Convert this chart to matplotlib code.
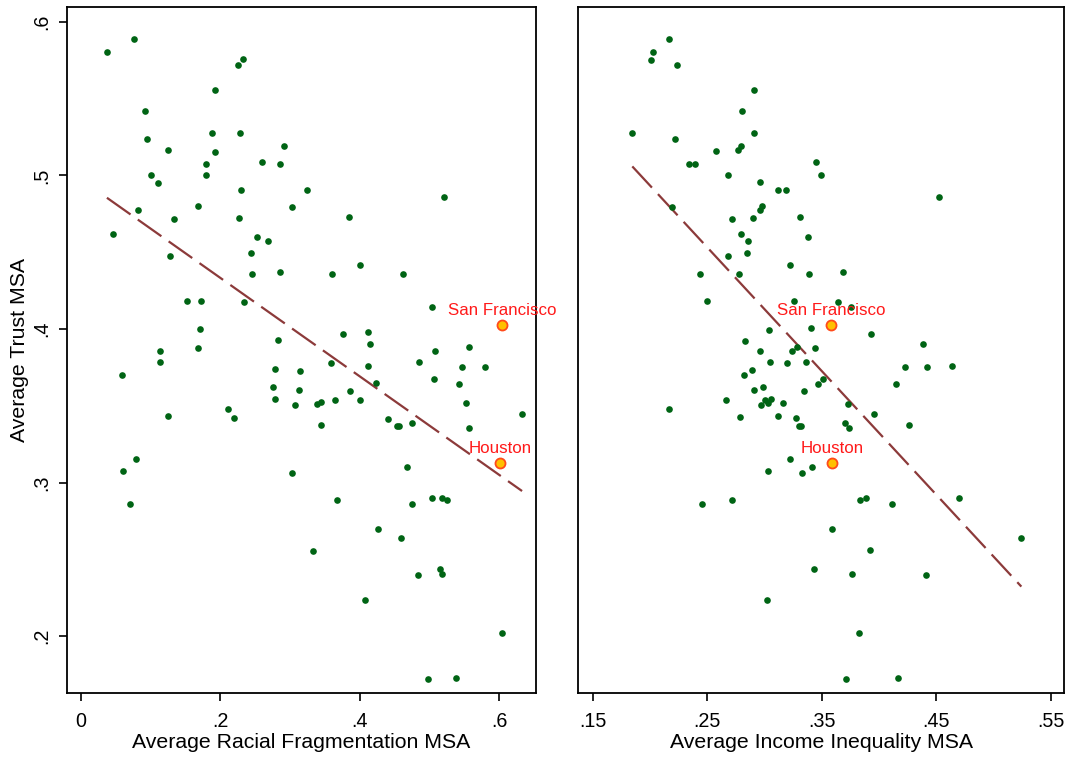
import numpy as np
import matplotlib
matplotlib.use('Agg')
import matplotlib.pyplot as plt

plt.rcParams['font.family'] = ['Liberation Sans', 'DejaVu Sans']

# average trust vs racial fragmentation (left panel), one value per MSA
frag_x = [0.0373, 0.0761, 0.2253, 0.2325, 0.1923, 0.0919, 0.0947, 0.1249, 0.1880, 0.2282,
          0.1923, 0.2914, 0.1794, 0.1794, 0.2598, 0.2856, 0.1005, 0.1105, 0.2297, 0.3244,
          0.0818, 0.0459, 0.1335, 0.1679, 0.2268, 0.3029, 0.2526, 0.2684, 0.2440, 0.1277,
          0.2454, 0.2856, 0.3603, 0.1521, 0.1722, 0.2340, 0.1708, 0.2828, 0.1679, 0.1134,
          0.1134, 0.0588, 0.2785, 0.3143, 0.3588, 0.2756, 0.3129, 0.2785, 0.3072, 0.3387,
          0.3445, 0.3646, 0.3445, 0.2110, 0.2196, 0.1249, 0.0789, 0.0603, 0.3029, 0.0703,
          0.3674, 0.3330, 0.5210, 0.3847, 0.4005, 0.4622, 0.5038, 0.3761, 0.4119, 0.4148,
          0.5081, 0.5569, 0.4851, 0.4119, 0.5469, 0.5799, 0.5067, 0.5426, 0.4234, 0.3861,
          0.4005, 0.5526, 0.4406, 0.4536, 0.4564, 0.4751, 0.5569, 0.6330, 0.4679, 0.4751,
          0.5038, 0.5182, 0.5253, 0.4263, 0.4593, 0.4837, 0.5153, 0.5182, 0.4076, 0.6043,
          0.4981, 0.5383]
frag_y = [0.5800, 0.5887, 0.5718, 0.5757, 0.5555, 0.5419, 0.5236, 0.5165, 0.5275, 0.5275,
          0.5152, 0.5191, 0.5074, 0.5002, 0.5087, 0.5074, 0.5002, 0.4950, 0.4904, 0.4904,
          0.4774, 0.4618, 0.4715, 0.4800, 0.4722, 0.4794, 0.4598, 0.4572, 0.4494, 0.4475,
          0.4357, 0.4370, 0.4357, 0.4182, 0.4182, 0.4175, 0.4000, 0.3928, 0.3876, 0.3856,
          0.3785, 0.3700, 0.3739, 0.3726, 0.3778, 0.3622, 0.3602, 0.3544, 0.3505, 0.3511,
          0.3524, 0.3537, 0.3374, 0.3478, 0.3420, 0.3433, 0.3153, 0.3075, 0.3062, 0.2860,
          0.2886, 0.2554, 0.4859, 0.4729, 0.4416, 0.4357, 0.4143, 0.3967, 0.3980, 0.3902,
          0.3856, 0.3882, 0.3785, 0.3758, 0.3752, 0.3752, 0.3674, 0.3641, 0.3648, 0.3596,
          0.3537, 0.3518, 0.3413, 0.3368, 0.3368, 0.3387, 0.3355, 0.3446, 0.3101, 0.2860,
          0.2899, 0.2899, 0.2886, 0.2697, 0.2639, 0.2398, 0.2437, 0.2405, 0.2235, 0.2020,
          0.1721, 0.1727]

# average trust vs income inequality (right panel)
ineq_x = [0.2164, 0.2027, 0.2007, 0.2240, 0.2913, 0.2808, 0.1846, 0.2222, 0.2913, 0.2575,
          0.2794, 0.2773, 0.2342, 0.2392, 0.2680, 0.3452, 0.3496, 0.2960, 0.3117, 0.3192,
          0.2196, 0.2980, 0.2960, 0.2718, 0.2901, 0.3312, 0.2799, 0.2858, 0.3379, 0.2846,
          0.2680, 0.3219, 0.2435, 0.2781, 0.3388, 0.2499, 0.3257, 0.3408, 0.3041, 0.4527,
          0.3688, 0.3642, 0.3752, 0.3930, 0.4387, 0.4227, 0.4422, 0.4638, 0.3511, 0.3472,
          0.4145, 0.3734, 0.3956, 0.3705, 0.3743, 0.4265, 0.3837, 0.3883, 0.4116, 0.4696,
          0.3594, 0.5244, 0.3921, 0.2829, 0.2960, 0.3240, 0.3286, 0.3443, 0.3052, 0.3201,
          0.3362, 0.2820, 0.2895, 0.2913, 0.2986, 0.3350, 0.2668, 0.2969, 0.3006, 0.3035,
          0.3061, 0.3166, 0.2790, 0.3117, 0.3277, 0.3303, 0.3323, 0.3227, 0.3417, 0.3332,
          0.3032, 0.2453, 0.2715, 0.3434, 0.3761, 0.4407, 0.3024, 0.3828, 0.3714, 0.4163,
          0.2164]
ineq_y = [0.5885, 0.5800, 0.5753, 0.5720, 0.5553, 0.5421, 0.5273, 0.5238, 0.5273, 0.5156,
          0.5191, 0.5163, 0.5072, 0.5072, 0.5002, 0.5087, 0.5002, 0.4954, 0.4904, 0.4904,
          0.4794, 0.4800, 0.4772, 0.4717, 0.4724, 0.4730, 0.4620, 0.4570, 0.4598, 0.4494,
          0.4475, 0.4418, 0.4356, 0.4356, 0.4356, 0.4182, 0.4182, 0.4006, 0.3993, 0.4857,
          0.4368, 0.4173, 0.4141, 0.3965, 0.3904, 0.3750, 0.3750, 0.3756, 0.3674, 0.3643,
          0.3639, 0.3513, 0.3444, 0.3389, 0.3353, 0.3374, 0.2888, 0.2901, 0.2860, 0.2901,
          0.2699, 0.2637, 0.2558, 0.3923, 0.3854, 0.3854, 0.3882, 0.3876, 0.3786, 0.3778,
          0.3786, 0.3702, 0.3734, 0.3604, 0.3624, 0.3598, 0.3535, 0.3507, 0.3535, 0.3520,
          0.3543, 0.3520, 0.3424, 0.3431, 0.3418, 0.3368, 0.3368, 0.3153, 0.3103, 0.3062,
          0.3075, 0.2860, 0.2886, 0.2435, 0.2406, 0.2400, 0.2233, 0.2018, 0.1719, 0.1725,
          0.3478]

# labelled cities: name, fragmentation, inequality, trust
cities = ['San Francisco', 'Houston']
city_frag = [0.6043, 0.6014]
city_ineq = [0.3580, 0.3589]
city_trust = [0.4025, 0.3127]

frag_ticks = [0, 0.2, 0.4, 0.6]
frag_ticklabels = ['0', '.2', '.4', '.6']
ineq_ticks = [0.15, 0.25, 0.35, 0.45, 0.55]
ineq_ticklabels = ['.15', '.25', '.35', '.45', '.55']
trust_ticks = [0.2, 0.3, 0.4, 0.5, 0.6]
trust_ticklabels = ['.2', '.3', '.4', '.5', '.6']

GREEN = '#006414'
LINE = '#8c3a3a'


def draw_panel(ax, xs, ys, city_x, xlabel, xlim, xticks, xticklabels):
    # fit line includes the labelled cities too
    all_x = np.array(xs + city_x)
    all_y = np.array(ys + city_trust)
    slope, icpt = np.polyfit(all_x, all_y, 1)
    fx = np.array([all_x.min(), all_x.max()])
    ax.plot(fx, icpt + slope * fx, color=LINE, lw=1.6, linestyle=(0, (13, 4)), zorder=2)

    ax.scatter(xs, ys, s=23, color=GREEN, linewidths=0, zorder=3)
    ax.scatter(city_x, city_trust, s=52, color='#ffc000', edgecolors='#ff4a1a',
               linewidths=1.3, zorder=4)
    for name, cx, cy in zip(cities, city_x, city_trust):
        ax.annotate(name, (cx, cy), xytext=(0, 5), textcoords='offset points',
                    ha='center', va='bottom', color='#ff1a1a', fontsize=12.2)

    ax.set_xlim(*xlim)
    ax.set_ylim(0.163, 0.6096)
    ax.set_xticks(xticks)
    ax.set_xticklabels(xticklabels, fontsize=14.2)
    ax.set_xlabel(xlabel, fontsize=15.3, labelpad=1.5)
    ax.tick_params(axis='x', direction='out', length=6, width=1.2, pad=8)
    for sp in ax.spines.values():
        sp.set_linewidth(1.3)


fig = plt.figure(figsize=(10.72, 7.6), dpi=100)
ax1 = fig.add_axes([0.0625, 0.0882, 0.4375, 0.9026])
ax2 = fig.add_axes([0.5392, 0.0882, 0.4534, 0.9026])

draw_panel(ax1, frag_x, frag_y, city_frag, 'Average Racial Fragmentation MSA',
           (-0.020, 0.653), frag_ticks, frag_ticklabels)
draw_panel(ax2, ineq_x, ineq_y, city_ineq, 'Average Income Inequality MSA',
           (0.1372, 0.5617), ineq_ticks, ineq_ticklabels)

ax1.set_yticks(trust_ticks)
ax1.set_yticklabels(trust_ticklabels, fontsize=14.2, rotation=90, va='center')
ax1.tick_params(axis='y', direction='out', length=6, width=1.2, pad=5)
ax1.set_ylabel('Average Trust MSA', fontsize=15.3, labelpad=3)
ax2.set_yticks([])

fig.savefig('out.png', dpi=100)
